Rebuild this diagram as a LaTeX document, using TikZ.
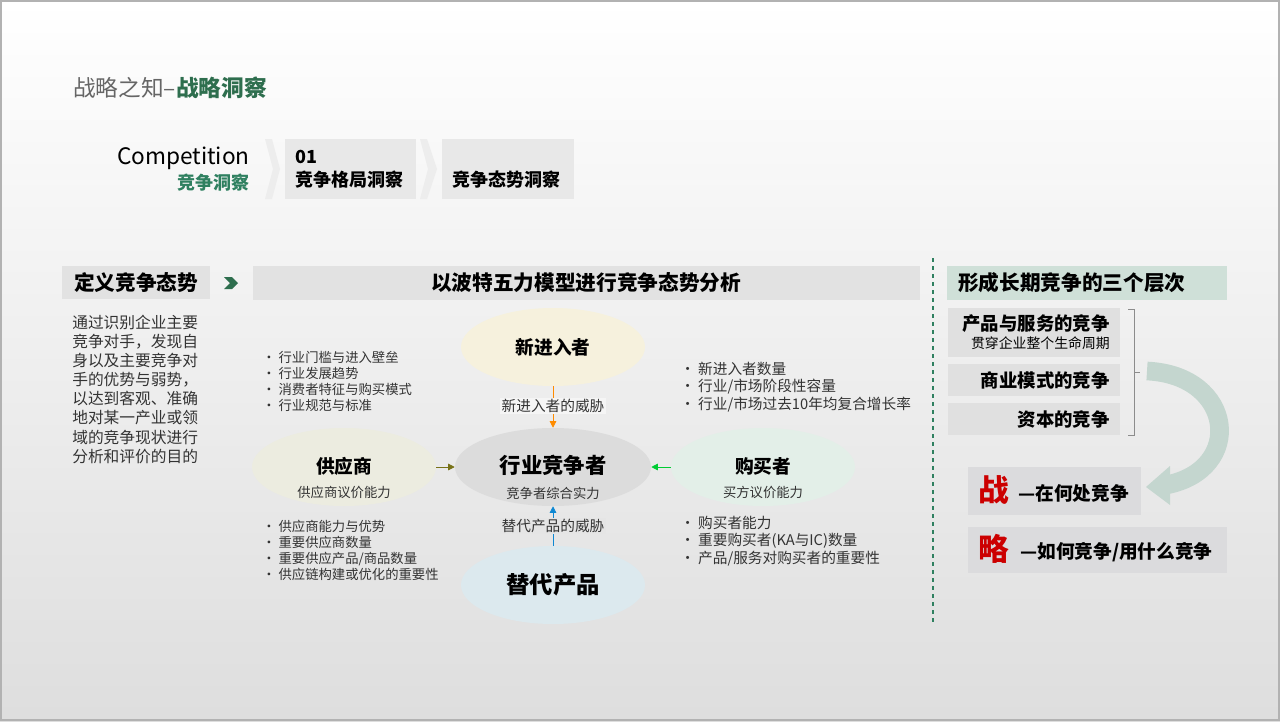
\documentclass[tikz,border=0pt]{standalone}
\usepackage{fontspec}
\setmainfont{Noto Sans CJK SC}
\usetikzlibrary{arrows.meta,shapes.geometric}
\definecolor{dgreen}{HTML}{2E6E4E}
\definecolor{mgreen}{HTML}{2F8060}
\definecolor{boxg}{HTML}{E2E2E2}
\definecolor{hdrg}{HTML}{CFE0D8}
\definecolor{arrg}{HTML}{C4D6CF}
\definecolor{txt}{HTML}{333333}
\definecolor{eNew}{HTML}{F6F1DD}
\definecolor{eSup}{HTML}{ECECE0}
\definecolor{eInd}{HTML}{DCDCDC}
\definecolor{eBuy}{HTML}{E3EFE8}
\definecolor{eSub}{HTML}{DCE9EE}
\tikzset{
 px/.style={x=0.75pt,y=-0.75pt},
 bar/.style={fill=boxg,draw=none},
 ell/.style={ellipse,draw=none,minimum width=184*0.75pt,minimum height=78*0.75pt},
 bul/.style={anchor=west,text=txt,inner sep=0pt},
 lbl/.style={font=\fontsize{10pt}{12pt}\selectfont,text=txt,inner sep=1pt},
 fa/.style={-{Triangle[length=5pt,width=5pt]},line width=0.6pt}
}
\begin{document}
\begin{tikzpicture}[px]
\useasboundingbox (0,0) rectangle (1280,721);
\shade[top color=white,bottom color=black!13] (0,0) rectangle (1280,721);
\draw[black!30,line width=1pt] (1,1) rectangle (1279,720);
% title
\node[anchor=west,inner sep=0pt,font=\fontsize{17pt}{20pt}\selectfont] (title) at (73,88) {\textcolor{black!60}{战略之知–}\textcolor{dgreen}{\bfseries 战略洞察}};
% nav
\node[anchor=east,inner sep=0pt,font=\fontsize{17pt}{19pt}\selectfont] (comp) at (250,158) {Competition};
\node[anchor=east,inner sep=0pt,font=\fontsize{13.5pt}{16pt}\selectfont\bfseries,text=mgreen] (jz) at (250,183) {竞争洞察};
\fill[black!7] (265,139) -- (272,139) -- (280,169) -- (272,199) -- (265,199) -- (273,169) -- cycle;
\fill[black!7] (420,139) -- (427,139) -- (437,169) -- (427,199) -- (420,199) -- (428,169) -- cycle;
\fill[black!9] (285,139) rectangle (416,199);
\fill[black!9] (442,139) rectangle (574,199);
\node[anchor=west,inner sep=0pt,font=\fontsize{13.5pt}{16pt}\selectfont\bfseries] (n01) at (295,157) {01};
\node[anchor=west,inner sep=0pt,font=\fontsize{13.5pt}{16pt}\selectfont\bfseries] (n1) at (295,180) {竞争格局洞察};
\node[anchor=west,inner sep=0pt,font=\fontsize{13.5pt}{16pt}\selectfont\bfseries] (n2) at (452,180) {竞争态势洞察};
% headers
\fill[bar] (62,266) rectangle (210,299);
\node[anchor=west,inner sep=0pt,font=\fontsize{15.5pt}{18pt}\selectfont\bfseries] (h1) at (74,283) {定义竞争态势};
\fill[dgreen] (224,277) -- (232,277) -- (238,283) -- (232,289) -- (224,289) -- (230,283) -- cycle;
\fill[bar] (253,266) rectangle (920,300);
\node[inner sep=0pt,font=\fontsize{15.5pt}{18pt}\selectfont\bfseries] (h2) at (586,283) {以波特五力模型进行竞争态势分析};
\fill[hdrg] (947,266) rectangle (1227,300);
\node[anchor=west,inner sep=0pt,font=\fontsize{15.5pt}{18pt}\selectfont\bfseries] (h3) at (958,283) {形成长期竞争的三个层次};
\draw[mgreen,dashed,line width=1pt] (933,258) -- (933,625);
% left text
\foreach \t [count=\i] in {通过识别企业主要,竞争对手，发现自,身以及主要竞争对,手的优势与弱势，,以达到客观、准确,地对某一产业或领,域的竞争现状进行,分析和评价的目的}
  \node[anchor=west,inner sep=0pt,font=\fontsize{11.8pt}{13pt}\selectfont,text=txt] at (72,322+19.2*\i-19.2) {\t};
% ellipses
\node[ell,fill=eNew] (new) at (553,347) {\fontsize{14pt}{16pt}\selectfont\bfseries 新进入者};
\node[ell,fill=eSup] (sup) at (344,467) {};
\node[ell,fill=eInd,minimum width=196*0.75pt] (ind) at (553,467) {};
\node[ell,fill=eBuy] (buy) at (763,467) {};
\node[ell,fill=eSub] (sub) at (553,585) {\fontsize{17.5pt}{20pt}\selectfont\bfseries 替代产品};
\node[inner sep=0pt,font=\fontsize{14pt}{16pt}\selectfont\bfseries] (supt) at (344,466) {供应商};
\node[lbl] (sups) at (344,492) {供应商议价能力};
\node[inner sep=0pt,font=\fontsize{16pt}{18pt}\selectfont\bfseries] (indt) at (553,465) {行业竞争者};
\node[lbl] (inds) at (553,493) {竞争者综合实力};
\node[inner sep=0pt,font=\fontsize{14pt}{16pt}\selectfont\bfseries] (buyt) at (763,466) {购买者};
\node[lbl] (buys) at (763,492) {买方议价能力};
% arrows
\draw[fa,draw=orange!90!yellow,fill=orange!90!yellow] (new) -- (ind);
\node[lbl,font=\fontsize{11pt}{13pt}\selectfont,fill=white!96!black] (nl) at (553,406) {新进入者的威胁};
\draw[fa,draw=cyan!70!blue,fill=cyan!70!blue] (sub) -- (ind);
\node[lbl,font=\fontsize{11pt}{13pt}\selectfont,fill=white!90!black] (sl) at (553,526) {替代产品的威胁};
\draw[fa,draw=olive!80!black,fill=olive!80!black] (sup) -- (ind);
\draw[fa,draw=green!60!teal,fill=green!60!teal] (buy) -- (ind);
% bullets
\foreach \t [count=\i] in {行业门槛与进入壁垒,行业发展趋势,消费者特征与购买模式,行业规范与标准}
  \node[bul,font=\fontsize{10pt}{12pt}\selectfont] at (262,357+16.3*\i-16.3) {• \t};
\foreach \t [count=\i] in {供应商能力与优势,重要供应商数量,重要供应产品/商品数量,供应链构建或优化的重要性}
  \node[bul,font=\fontsize{10pt}{12pt}\selectfont] at (262,526+16.3*\i-16.3) {• \t};
\foreach \t [count=\i] in {新进入者数量,行业/市场阶段性容量,行业/市场过去10年均复合增长率}
  \node[bul,font=\fontsize{11pt}{13pt}\selectfont] at (680,369+18*\i-18) {• \t};
\foreach \t [count=\i] in {购买者能力,重要购买者(KA与IC)数量,产品/服务对购买者的重要性}
  \node[bul,font=\fontsize{11pt}{13pt}\selectfont] at (680,523+18*\i-18) {• \t};
% right stack
\fill[black!12] (948,308) rectangle (1120,357);
\fill[black!12] (948,364) rectangle (1120,396);
\fill[black!12] (948,403) rectangle (1120,435);
\node[anchor=east,inner sep=0pt,font=\fontsize{13.8pt}{16pt}\selectfont\bfseries] (r1) at (1110,324) {产品与服务的竞争};
\node[anchor=east,inner sep=0pt,font=\fontsize{10.4pt}{12pt}\selectfont] (r1s) at (1110,343) {贯穿企业整个生命周期};
\node[anchor=east,inner sep=0pt,font=\fontsize{13.8pt}{16pt}\selectfont\bfseries] (r2) at (1110,380) {商业模式的竞争};
\node[anchor=east,inner sep=0pt,font=\fontsize{13.8pt}{16pt}\selectfont\bfseries] (r3) at (1110,419) {资本的竞争};
\draw[black!45,line width=0.5pt] (1128,309) -- (1134,309) -- (1134,435) -- (1128,435);
\draw[black!45,line width=0.5pt] (1134,372) -- (1140,372);
% curved arrow
\draw[arrg,line width=14pt] (1147,371) .. controls (1235,375) and (1245,470) .. (1166,485);
\fill[arrg] (1146,487) -- (1170,466) -- (1170,505) -- cycle;
% 战 略
\fill[blue!4!black!14] (968,467) rectangle (1141,515);
\fill[blue!4!black!14] (968,527) rectangle (1227,573);
\node[anchor=west,inner sep=0pt,font=\fontsize{23pt}{25pt}\selectfont\bfseries,text=red!80!black] (zh) at (978,490) {战};
\node[anchor=west,inner sep=0pt,font=\fontsize{14pt}{16pt}\selectfont\bfseries] (zht) at (1018,493) {—在何处竞争};
\node[anchor=west,inner sep=0pt,font=\fontsize{23pt}{25pt}\selectfont\bfseries,text=red!80!black] (lu) at (978,549) {略};
\node[anchor=west,inner sep=0pt,font=\fontsize{14pt}{16pt}\selectfont\bfseries] (lut) at (1020,552) {—如何竞争/用什么竞争};
\end{tikzpicture}
\end{document}
